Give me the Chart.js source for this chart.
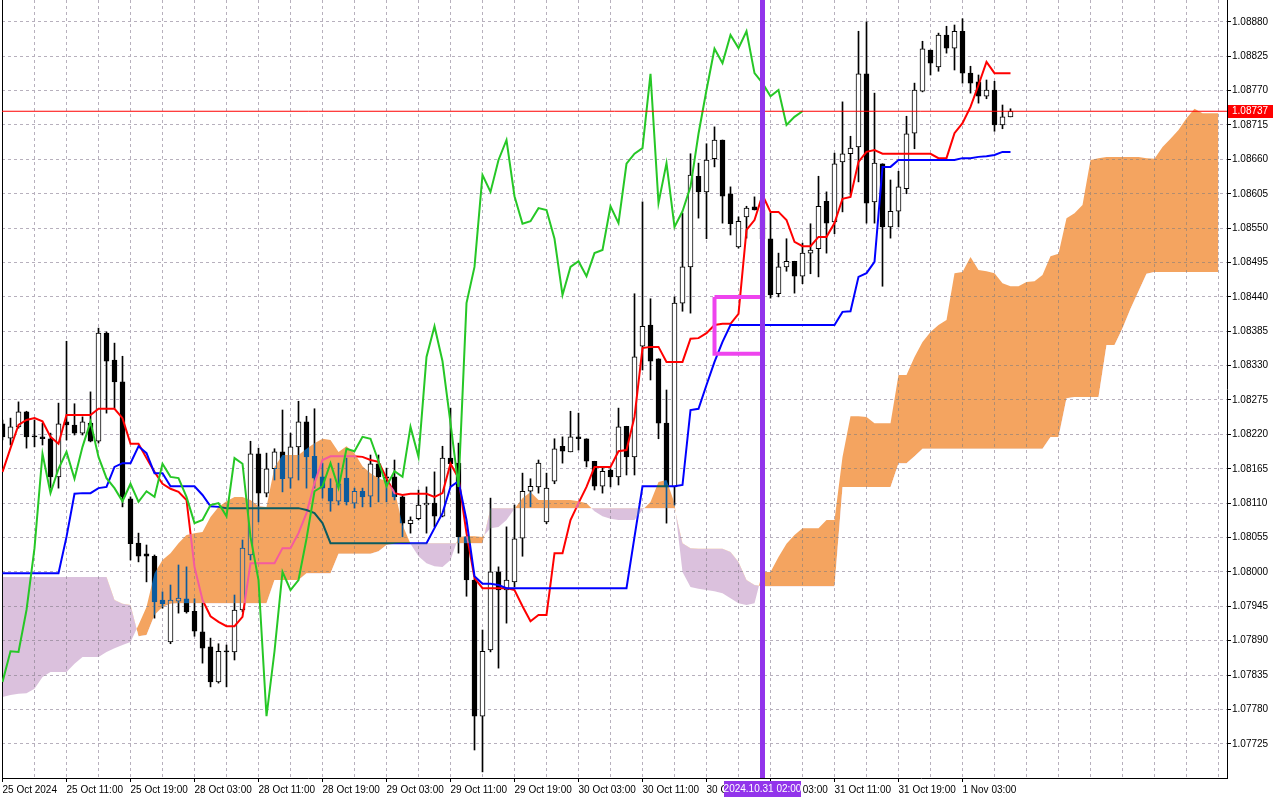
<!DOCTYPE html>
<html>
<head>
<meta charset="utf-8">
<script src="https://cdn.jsdelivr.net/npm/chart.js@4.4.1/dist/chart.umd.min.js"></script>
<style>
html,body{margin:0;padding:0;background:#fff;overflow:hidden}
#wrap{width:1280px;height:800px;position:relative}
</style>
</head>
<body>
<div id="wrap"><canvas id="c" width="1280" height="800"></canvas></div>
<script>
// ===== DATA (EURUSD H1, Ichimoku) =====
const opens = [1.08237,1.08214,1.08232,1.08256,1.08217,1.08216,1.08213,1.08152,1.08240,1.08235,1.08222,1.08238,1.08209,1.08382,1.08339,1.08304,1.08117,1.08046,1.08029,1.08025,1.07955,1.07888,1.07953,1.07957,1.07937,1.07904,1.07880,1.07824,1.07873,1.07872,1.07939,1.08027,1.08189,1.08126,1.08165,1.08192,1.08150,1.08200,1.08240,1.08185,1.08152,1.08134,1.08113,1.08150,1.08110,1.08129,1.08121,1.08173,1.08152,1.08152,1.08120,1.08077,1.08085,1.08107,1.08110,1.08089,1.08182,1.08174,1.08056,1.07987,1.07769,1.07875,1.08000,1.07971,1.07984,1.08054,1.08129,1.08136,1.08080,1.08145,1.08201,1.08192,1.08216,1.08213,1.08177,1.08137,1.08163,1.08152,1.08233,1.08184,1.08361,1.08395,1.08341,1.08238,1.08136,1.08430,1.08488,1.08633,1.08608,1.08661,1.08691,1.08605,1.08520,1.08568,1.08584,1.08579,1.08533,1.08445,1.08488,1.08497,1.08473,1.08510,1.08517,1.08593,1.08560,1.08656,1.08669,1.08680,1.08797,1.08592,1.08653,1.08552,1.08577,1.08613,1.08702,1.08769,1.08835,1.08808,1.08859,1.08838,1.08865,1.08798,1.08784,1.08761,1.08771,1.08715,1.08728];
const highs = [1.08243,1.08246,1.08272,1.08257,1.08243,1.08238,1.08222,1.08270,1.08369,1.08269,1.08248,1.08288,1.08390,1.08384,1.08366,1.08345,1.08120,1.08062,1.08043,1.08027,1.07968,1.07979,1.08011,1.08008,1.07957,1.07950,1.07894,1.07885,1.07883,1.07963,1.08051,1.08209,1.08198,1.08190,1.08197,1.08259,1.08222,1.08273,1.08249,1.08261,1.08174,1.08149,1.08174,1.08182,1.08134,1.08134,1.08187,1.08187,1.08166,1.08179,1.08121,1.08088,1.08131,1.08136,1.08160,1.08201,1.08262,1.08206,1.08057,1.07989,1.07907,1.08118,1.08008,1.08072,1.08107,1.08158,1.08149,1.08179,1.08158,1.08213,1.08216,1.08257,1.08254,1.08213,1.08177,1.08168,1.08165,1.08262,1.08233,1.08445,1.08592,1.08437,1.08341,1.08291,1.08440,1.08574,1.08669,1.08654,1.08685,1.08712,1.08691,1.08616,1.08568,1.08585,1.08600,1.08603,1.08574,1.08510,1.08533,1.08497,1.08526,1.08557,1.08633,1.08608,1.08670,1.08752,1.08697,1.08865,1.08880,1.08766,1.08653,1.08627,1.08641,1.08729,1.08782,1.08849,1.08835,1.08862,1.08873,1.08875,1.08885,1.08809,1.08795,1.08787,1.08785,1.08747,1.08741];
const lows = [1.08211,1.08203,1.08230,1.08198,1.08200,1.08203,1.08134,1.08134,1.08211,1.08219,1.08219,1.08208,1.08206,1.08254,1.08262,1.08104,1.08019,1.08016,1.07984,1.07926,1.07942,1.07885,1.07934,1.07934,1.07897,1.07854,1.07816,1.07822,1.07816,1.07859,1.07936,1.08019,1.08080,1.08120,1.08147,1.08128,1.08134,1.08147,1.08134,1.08134,1.08118,1.08097,1.08107,1.08107,1.08102,1.08104,1.08104,1.08112,1.08112,1.08115,1.08056,1.08062,1.08083,1.08062,1.08072,1.08088,1.08136,1.08030,1.07961,1.07715,1.07680,1.07872,1.07846,1.07918,1.07976,1.08025,1.08104,1.08126,1.08077,1.08141,1.08174,1.08192,1.08195,1.08168,1.08131,1.08126,1.08136,1.08139,1.08155,1.08155,1.08323,1.08307,1.08213,1.08078,1.08107,1.08417,1.08414,1.08566,1.08533,1.08648,1.08558,1.08539,1.08518,1.08534,1.08579,1.08528,1.08438,1.08440,1.08481,1.08446,1.08461,1.08477,1.08472,1.08510,1.08541,1.08576,1.08603,1.08624,1.08558,1.08558,1.08457,1.08534,1.08552,1.08605,1.08677,1.08768,1.08795,1.08801,1.08830,1.08803,1.08782,1.08766,1.08750,1.08757,1.08705,1.08709,1.08728];
const closes = [1.08216,1.08232,1.08256,1.08216,1.08216,1.08213,1.08152,1.08237,1.08235,1.08222,1.08240,1.08209,1.08382,1.08337,1.08304,1.08120,1.08045,1.08025,1.08025,1.07952,1.07949,1.07955,1.07958,1.07936,1.07905,1.07878,1.07824,1.07873,1.07872,1.07939,1.08038,1.08189,1.08126,1.08165,1.08192,1.08149,1.08200,1.08240,1.08184,1.08150,1.08134,1.08113,1.08141,1.08112,1.08129,1.08120,1.08173,1.08152,1.08150,1.08120,1.08078,1.08083,1.08107,1.08110,1.08089,1.08182,1.08173,1.08056,1.07987,1.07769,1.07873,1.08000,1.07971,1.07987,1.08053,1.08129,1.08137,1.08174,1.08134,1.08197,1.08193,1.08216,1.08213,1.08177,1.08137,1.08161,1.08152,1.08232,1.08184,1.08344,1.08393,1.08337,1.08238,1.08136,1.08430,1.08488,1.08635,1.08608,1.08659,1.08691,1.08601,1.08557,1.08561,1.08582,1.08579,1.08533,1.08443,1.08488,1.08497,1.08473,1.08510,1.08515,1.08585,1.08558,1.08653,1.08669,1.08678,1.08797,1.08590,1.08654,1.08552,1.08577,1.08616,1.08701,1.08771,1.08837,1.08814,1.08859,1.08838,1.08865,1.08798,1.08782,1.08761,1.08771,1.08715,1.08728,1.08737];
const tenkan = [1.08160,1.08198,1.08235,1.08243,1.08246,1.08241,1.08216,1.08205,1.08251,1.08251,1.08251,1.08251,1.08261,1.08261,1.08261,1.08246,1.08205,1.08205,1.08182,1.08160,1.08141,1.08133,1.08128,1.08115,1.08008,1.07955,1.07929,1.07920,1.07913,1.07913,1.07928,1.08014,1.08014,1.08014,1.08014,1.08038,1.08038,1.08062,1.08094,1.08142,1.08179,1.08185,1.08185,1.08185,1.08185,1.08184,1.08179,1.08176,1.08150,1.08126,1.08123,1.08125,1.08125,1.08125,1.08120,1.08126,1.08173,1.08150,1.08062,1.07990,1.07974,1.07974,1.07974,1.07974,1.07971,1.07945,1.07921,1.07931,1.07931,1.08030,1.08030,1.08083,1.08110,1.08136,1.08168,1.08168,1.08168,1.08193,1.08195,1.08248,1.08358,1.08360,1.08360,1.08336,1.08336,1.08336,1.08373,1.08374,1.08382,1.08395,1.08397,1.08397,1.08413,1.08547,1.08563,1.08603,1.08576,1.08576,1.08563,1.08528,1.08521,1.08521,1.08536,1.08536,1.08558,1.08597,1.08600,1.08656,1.08672,1.08675,1.08669,1.08669,1.08669,1.08669,1.08669,1.08669,1.08669,1.08662,1.08662,1.08702,1.08718,1.08744,1.08779,1.08816,1.08798,1.08798,1.08798];
const kijun = [1.07998,1.07998,1.07998,1.07998,1.07998,1.07998,1.07998,1.07998,1.08056,1.08125,1.08126,1.08126,1.08134,1.08136,1.08168,1.08174,1.08174,1.08201,1.08190,1.08158,1.08158,1.08137,1.08137,1.08137,1.08137,1.08123,1.08105,1.08104,1.08102,1.08102,1.08102,1.08102,1.08102,1.08102,1.08102,1.08102,1.08102,1.08102,1.08099,1.08094,1.08078,1.08046,1.08046,1.08046,1.08046,1.08046,1.08046,1.08046,1.08046,1.08046,1.08046,1.08046,1.08046,1.08046,1.08070,1.08094,1.08136,1.08145,1.08083,1.07993,1.07981,1.07981,1.07979,1.07974,1.07974,1.07974,1.07974,1.07974,1.07974,1.07974,1.07974,1.07974,1.07974,1.07974,1.07974,1.07974,1.07974,1.07974,1.07974,1.08056,1.08137,1.08137,1.08137,1.08137,1.08137,1.08139,1.08259,1.08261,1.08299,1.08336,1.08368,1.08395,1.08395,1.08395,1.08395,1.08395,1.08395,1.08395,1.08395,1.08395,1.08395,1.08395,1.08395,1.08395,1.08395,1.08416,1.08417,1.08472,1.08478,1.08496,1.08648,1.08648,1.08659,1.08659,1.08659,1.08659,1.08659,1.08659,1.08659,1.08659,1.08662,1.08662,1.08664,1.08665,1.08667,1.08672,1.08672];
const spanA = [1.07800,1.07803,1.07805,1.07806,1.07813,1.07832,1.07840,1.07840,1.07840,1.07853,1.07864,1.07864,1.07864,1.07872,1.07878,1.07883,1.07888,1.07915,1.07944,1.07998,1.08019,1.08030,1.08046,1.08059,1.08062,1.08064,1.08088,1.08104,1.08113,1.08120,1.08120,1.08115,1.08105,1.08104,1.08168,1.08187,1.08187,1.08187,1.08197,1.08206,1.08213,1.08211,1.08192,1.08201,1.08190,1.08169,1.08158,1.08150,1.08145,1.08131,1.08075,1.08045,1.08025,1.08014,1.08009,1.08008,1.08019,1.08056,1.08057,1.08057,1.08056,1.08070,1.08072,1.08083,1.08101,1.08118,1.08128,1.08115,1.08115,1.08115,1.08115,1.08115,1.08113,1.08110,1.08097,1.08089,1.08085,1.08083,1.08083,1.08083,1.08099,1.08112,1.08144,1.08147,1.08110,1.08000,1.07976,1.07973,1.07971,1.07969,1.07966,1.07958,1.07950,1.07947,1.07950,1.08000,1.08000,1.08024,1.08045,1.08059,1.08070,1.08070,1.08070,1.08083,1.08083,1.08184,1.08249,1.08249,1.08248,1.08238,1.08238,1.08238,1.08315,1.08315,1.08344,1.08368,1.08384,1.08395,1.08403,1.08478,1.08480,1.08504,1.08483,1.08481,1.08478,1.08462,1.08457,1.08457,1.08464,1.08465,1.08475,1.08505,1.08509,1.08566,1.08574,1.08587,1.08659,1.08662,1.08664,1.08664,1.08664,1.08664,1.08664,1.08662,1.08661,1.08680,1.08693,1.08707,1.08726,1.08741,1.08734,1.08734,1.08734];
const spanB = [1.07992,1.07992,1.07992,1.07992,1.07992,1.07992,1.07992,1.07992,1.07992,1.07992,1.07992,1.07992,1.07992,1.07992,1.07955,1.07949,1.07947,1.07897,1.07899,1.07931,1.07944,1.07949,1.07950,1.07950,1.07950,1.07950,1.07950,1.07950,1.07950,1.07950,1.07950,1.07950,1.07950,1.07950,1.07987,1.07987,1.07987,1.07987,1.07998,1.07998,1.07998,1.07998,1.08029,1.08029,1.08029,1.08029,1.08029,1.08033,1.08043,1.08045,1.08046,1.08046,1.08046,1.08046,1.08046,1.08046,1.08046,1.08046,1.08046,1.08046,1.08046,1.08102,1.08102,1.08102,1.08102,1.08102,1.08102,1.08102,1.08102,1.08102,1.08102,1.08102,1.08102,1.08102,1.08102,1.08102,1.08102,1.08102,1.08102,1.08102,1.08102,1.08102,1.08102,1.08102,1.08102,1.08046,1.08038,1.08037,1.08037,1.08037,1.08037,1.08032,1.08016,1.07987,1.07979,1.07977,1.07977,1.07977,1.07977,1.07977,1.07977,1.07977,1.07977,1.07977,1.07977,1.08136,1.08136,1.08136,1.08136,1.08136,1.08136,1.08136,1.08174,1.08174,1.08185,1.08197,1.08197,1.08197,1.08197,1.08197,1.08197,1.08197,1.08197,1.08197,1.08197,1.08197,1.08197,1.08197,1.08197,1.08197,1.08197,1.08216,1.08216,1.08278,1.08280,1.08280,1.08280,1.08280,1.08363,1.08363,1.08390,1.08421,1.08449,1.08477,1.08480,1.08480,1.08480,1.08480,1.08480,1.08480,1.08480,1.08480,1.08480];
const chikouShift = 26;
const timeLabels = ["25 Oct 2024","25 Oct 11:00","25 Oct 19:00","28 Oct 03:00","28 Oct 11:00","28 Oct 19:00","29 Oct 03:00","29 Oct 11:00","29 Oct 19:00","30 Oct 03:00","30 Oct 11:00","30 Oct 19:00","31 Oct 03:00","31 Oct 11:00","31 Oct 19:00","1 Nov 03:00"];
const labelEvery = 8;
const gridEvery = 4;
const priceTicks = [1.07725,1.07780,1.07835,1.07890,1.07945,1.08000,1.08055,1.08110,1.08165,1.08220,1.08275,1.08330,1.08385,1.08440,1.08495,1.08550,1.08605,1.08660,1.08715,1.08770,1.08825,1.08880];
const currentPrice = 1.08737;
const markerBar = 95;
const markerLabel = "2024.10.31 02:00";
const boxBars = [89, 95];
const boxPrices = [1.08440, 1.08349];

// ===== VIEW =====
const xMin = -0.0625, xMax = 153.0625;
const yMax = 1.08915, yMin = 1.076702;
const totalBars = spanA.length;

Chart.defaults.font.family = "'Liberation Sans', Arial, sans-serif";
Chart.defaults.font.size = 10;
Chart.defaults.color = '#000';

const idx = opens.map((_, i) => i);
const bodyData = idx.map(i => ({x: i, y: [opens[i], closes[i]]}));
const wickData = idx.map(i => ({x: i, y: [lows[i], highs[i]]}));
const bodyFill = idx.map(i => closes[i] >= opens[i] ? '#ffffff' : '#000000');
const asPts = arr => arr.map((v, i) => ({x: i, y: v}));
const chikouPts = closes.slice(chikouShift).map((v, i) => ({x: i, y: v}));

const gridBars = [];
for (let b = 0; b < totalBars; b += gridEvery) gridBars.push(b);

const GRID = '#b7b0bd';
const isLabelBar = v => v % labelEvery === 0 && v / labelEvery < timeLabels.length;

const blendPlugin = {
  id: 'mtBlend',
  beforeDraw(chart) {
    const c = chart.ctx;
    c.save(); c.fillStyle = '#ffffff'; c.fillRect(0, 0, chart.width, chart.height); c.restore();
  },
  beforeDatasetsDraw(chart) {
    const c = chart.ctx, a = chart.chartArea;
    c.save(); c.strokeStyle = '#000'; c.lineWidth = 1;
    c.beginPath(); c.moveTo(a.left + 0.5, a.top); c.lineTo(a.left + 0.5, a.bottom); c.stroke();
    c.restore();
  },
  afterDatasetDraw(chart, args) {
    const id = chart.data.datasets[args.index].id;
    if (id === 'spanB') chart.ctx.globalCompositeOperation = 'exclusion';
    else if (id === 'spanA') chart.ctx.globalCompositeOperation = 'source-over';
  },
  afterDraw(chart) {
    const c = chart.ctx, a = chart.chartArea;
    const ys = chart.scales.y, xs = chart.scales.x;
    c.save();
    const py = ys.getPixelForValue(currentPrice);
    c.fillStyle = '#ff0000';
    c.fillRect(a.right + 1, Math.round(py) - 6, 45, 13);
    c.fillStyle = '#ffffff';
    c.font = "10px 'Liberation Sans', Arial, sans-serif";
    c.textBaseline = 'middle'; c.textAlign = 'left';
    c.fillText(currentPrice.toFixed(5), a.right + 5, Math.round(py) + 0.5);
    const mx = xs.getPixelForValue(markerBar);
    const w = 77;
    c.fillStyle = '#9234eb';
    c.fillRect(Math.round(mx - w / 2), a.bottom + 3, w, 16);
    c.fillStyle = '#ffffff';
    c.textAlign = 'center';
    c.fillText(markerLabel, mx, a.bottom + 11.5);
    c.restore();
  }
};

new Chart(document.getElementById('c'), {
  data: {
    datasets: [
      {id: 'wicks', type: 'bar', data: wickData, backgroundColor: '#000', borderWidth: 0, barThickness: 1, grouped: false, order: 10, minBarLength: 1},
      {id: 'bodies', type: 'bar', data: bodyData, backgroundColor: bodyFill, borderColor: '#000', borderWidth: 1, borderSkipped: false, barThickness: 5, grouped: false, order: 9, minBarLength: 1},
      {id: 'tenkan', type: 'line', data: asPts(tenkan), borderColor: '#ff0000', borderWidth: 2, pointRadius: 0, tension: 0, fill: false, order: 8},
      {id: 'kijun', type: 'line', data: asPts(kijun), borderColor: '#0000ff', borderWidth: 2, pointRadius: 0, tension: 0, fill: false, order: 7},
      {id: 'spanB', type: 'line', data: asPts(spanB), borderColor: 'rgba(0,0,0,0)', borderWidth: 0, pointRadius: 0, tension: 0, fill: false, order: 6},
      {id: 'spanA', type: 'line', data: asPts(spanA), borderColor: 'rgba(0,0,0,0)', borderWidth: 0, pointRadius: 0, tension: 0,
        fill: {target: 4, above: 'rgb(11,91,159)', below: 'rgb(36,62,34)'}, order: 5},
      {id: 'chikou', type: 'line', data: chikouPts, borderColor: '#26c726', borderWidth: 2, pointRadius: 0, tension: 0, fill: false, order: 4},
      {id: 'price', type: 'line', data: [{x: xMin, y: currentPrice}, {x: xMax, y: currentPrice}], borderColor: '#ff0000', borderWidth: 1, pointRadius: 0, fill: false, order: 3},
      {id: 'box', type: 'line', data: [{x: boxBars[0], y: boxPrices[0]}, {x: boxBars[1], y: boxPrices[0]}, {x: boxBars[1], y: boxPrices[1]}, {x: boxBars[0], y: boxPrices[1]}, {x: boxBars[0], y: boxPrices[0]}],
        borderColor: '#ee44ee', borderWidth: 4, pointRadius: 0, fill: false, borderJoinStyle: 'miter', order: 2},
      {id: 'vline', type: 'line', data: [{x: markerBar, y: yMin}, {x: markerBar, y: yMax}], borderColor: '#9234eb', borderWidth: 5, pointRadius: 0, fill: false, order: 1}
    ]
  },
  options: {
    responsive: false,
    animation: false,
    devicePixelRatio: 1,
    events: [],
    layout: {padding: {left: 2, top: 0, right: 0, bottom: 0}},
    plugins: {legend: {display: false}, tooltip: {enabled: false}, filler: {drawTime: 'beforeDatasetDraw'}},
    scales: {
      x: {
        type: 'linear', position: 'bottom', min: xMin, max: xMax, offset: false,
        afterBuildTicks: s => { s.ticks = gridBars.map(v => ({value: v})); },
        afterFit: s => { s.height = 22; s.paddingLeft = 0; s.paddingRight = 0; },
        ticks: {autoSkip: false, maxRotation: 0, minRotation: 0, align: 'start', padding: 2,
          callback: v => isLabelBar(v) ? timeLabels[v / labelEvery] : ''},
        grid: {offset: false, color: GRID, lineWidth: 1, tickLength: 4, tickWidth: 1,
          tickColor: c => (c.tick && isLabelBar(c.tick.value)) ? '#000' : 'rgba(0,0,0,0)'},
        border: {display: true, color: '#000', width: 1, dash: [3, 3]}
      },
      y: {
        type: 'linear', position: 'right', min: yMin, max: yMax,
        afterBuildTicks: s => { s.ticks = priceTicks.map(v => ({value: v})); },
        afterFit: s => { s.width = 53; s.paddingTop = 0; s.paddingBottom = 0; },
        ticks: {autoSkip: false, padding: 1, callback: v => v.toFixed(5)},
        grid: {color: GRID, lineWidth: 1, tickLength: 4, tickWidth: 1, tickColor: '#000'},
        border: {display: true, color: '#000', width: 1, dash: [3, 3]}
      }
    }
  },
  plugins: [blendPlugin]
});
</script>
</body>
</html>
